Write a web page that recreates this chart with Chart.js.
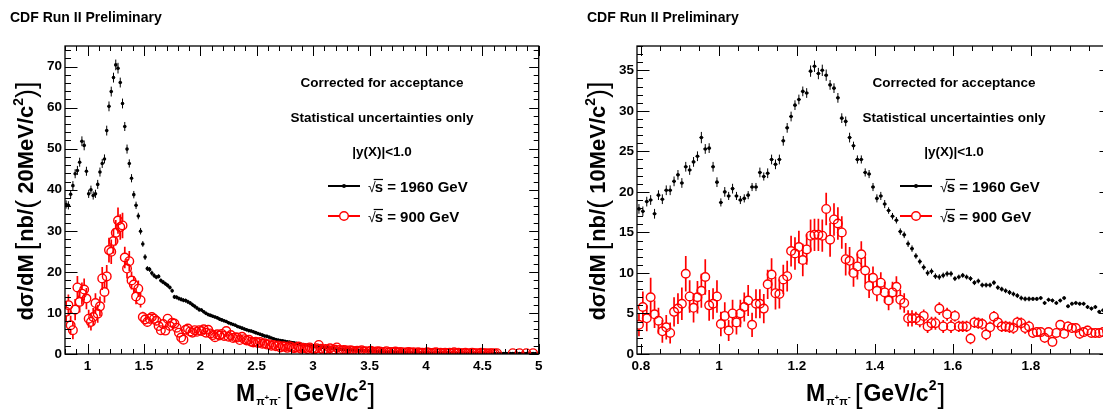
<!DOCTYPE html>
<html>
<head>
<meta charset="utf-8">
<script src="https://cdn.jsdelivr.net/npm/chart.js@4.4.1/dist/chart.umd.min.js"></script>
<style>
    html, body { margin: 0; padding: 0; background: #fff; overflow: hidden; }
    #wrap { position: relative; width: 1103px; height: 409px; overflow: hidden; }
    #chartLeft { position: absolute; left: 0; top: 0; }
    #chartRight { position: absolute; left: 552px; top: 0; }
</style>
</head>
<body>
<div id="wrap">
    <canvas id="chartLeft" width="552" height="409"></canvas>
    <canvas id="chartRight" width="570" height="409"></canvas>
</div>
<script>
// Binning of the two histograms (bin centres = start + width*(i+0.5))
const leftBinStart = 0.8, leftBinWidth = 0.02;
const rightBinStart = 0.79, rightBinWidth = 0.01;

// Tick labels
const leftXTicks = [1, 1.5, 2, 2.5, 3, 3.5, 4, 4.5, 5];
const leftYTicks = [0, 10, 20, 30, 40, 50, 60, 70];
const rightXTicks = [0.8, 1, 1.2, 1.4, 1.6, 1.8, 2];
const rightYTicks = [0, 5, 10, 15, 20, 25, 30, 35];

const infoLines = ['Corrected for acceptance', 'Statistical uncertainties only', '|y(X)|<1.0'];
const seriesLabels = ['1960 GeV', '900 GeV'];

// Left panel, 20 MeV bins, sqrt(s) = 1960 GeV
const leftBlack = [
    36.4, 36.2, 38.9, 41.0, 43.9, 44.7, 46.7, 51.8, 50.8, 44.5,
    39.0, 40.0, 38.6, 39.0, 41.3, 44.3, 46.4, 47.5, 54.4, 60.3,
    63.9, 67.3, 70.4, 69.6, 66.1, 61.0, 55.4, 49.9, 46.4, 42.8,
    38.8, 36.2, 33.6, 29.9, 26.8, 23.6, 20.8, 20.6, 19.7, 19.1,
    18.7, 18.9, 17.9, 17.5, 17.1, 16.7, 16.2, 15.4, 13.9, 13.8,
    13.5, 13.3, 13.1, 13.0, 12.7, 12.4, 12.0, 11.6, 11.2, 10.8,
    10.7, 10.3, 9.9, 9.6, 9.4, 9.2, 9.0, 8.8, 8.5, 8.3,
    8.1, 7.9, 7.6, 7.4, 7.2, 7.0, 6.7, 6.5, 6.3, 6.1,
    5.9, 5.7, 5.6, 5.4, 5.2, 5.0, 4.8, 4.6, 4.4, 4.3,
    4.1, 3.9, 3.7, 3.5, 3.4, 3.3, 3.2, 3.1, 3.0, 2.9,
    2.8, 2.7, 2.6, 2.5, 2.4, 2.3, 2.2, 2.2, 2.1, 2.0,
    1.9, 1.8, 1.8, 1.7, 1.6, 1.6, 1.5, 1.4, 1.4, 1.3,
    1.2, 1.2, 1.1, 1.1, 1.0, 1.0, 0.95, 0.9, 0.9, 0.9,
    0.9, 0.85, 0.8, 0.8, 0.75, 0.7, 0.7, 0.65, 0.6, 0.6,
    0.5, 0.5, 0.5, 0.45, 0.45, 0.4, 0.4, 0.4, 0.4, 0.35,
    0.35, 0.35, 0.3, 0.3, 0.3, 0.3, 0.3, 0.3, 0.28, 0.28,
    0.27, 0.26, 0.25, 0.25, 0.25, 0.24, 0.23, 0.22, 0.22, 0.22,
    0.2, 0.2, 0.2, 0.19, 0.19, 0.18, 0.18, 0.17, 0.17, 0.17,
    0.16, 0.16, 0.15, 0.15, 0.15, 0.14, 0.14, 0.14, 0.13, 0.13,
    0.13, 0.12, 0.12, 0.12, 0.11, 0.11, 0.11, 0.1, 0.1, 0.1,
    0.1, 0.09, 0.09, 0.09, 0.09, 0.08, 0.08, 0.08, 0.08, 0.07
];
const leftBlackErr = [
    1.0, 1.0, 1.0, 1.1, 1.1, 1.1, 1.1, 1.2, 1.2, 1.1,
    1.0, 1.0, 1.0, 1.0, 1.1, 1.1, 1.1, 1.1, 1.2, 1.2,
    1.2, 1.2, 1.3, 1.3, 1.2, 1.2, 1.1, 1.1, 1.0, 1.0,
    0.9, 0.9, 0.8, 0.8, 0.7, 0.7, 0.6, 0.6, 0.6, 0.6,
    0.5, 0.5, 0.5, 0.5, 0.5, 0.5, 0.5, 0.5, 0.5, 0.5,
    0.5, 0.5, 0.5, 0.5, 0.5, 0.5, 0.5, 0.5, 0.5, 0.5,
    0.4, 0.4, 0.4, 0.4, 0.4, 0.4, 0.4, 0.4, 0.4, 0.4,
    0.4, 0.4, 0.4, 0.4, 0.4, 0.4, 0.4, 0.4, 0.4, 0.4,
    0.4, 0.4, 0.4, 0.4, 0.4, 0.4, 0.4, 0.4, 0.4, 0.4,
    0.3, 0.3, 0.3, 0.3, 0.3, 0.3, 0.3, 0.3, 0.3, 0.3,
    0.3, 0.3, 0.3, 0.3, 0.3, 0.3, 0.3, 0.3, 0.3, 0.3,
    0.3, 0.3, 0.3, 0.3, 0.3, 0.3, 0.3, 0.3, 0.3, 0.3,
    0.2, 0.2, 0.2, 0.2, 0.2, 0.2, 0.2, 0.2, 0.2, 0.2,
    0.2, 0.2, 0.2, 0.2, 0.2, 0.2, 0.2, 0.2, 0.2, 0.2,
    0.2, 0.2, 0.2, 0.2, 0.2, 0.2, 0.2, 0.2, 0.2, 0.2,
    0.15, 0.15, 0.15, 0.15, 0.15, 0.15, 0.15, 0.15, 0.15, 0.15,
    0.15, 0.15, 0.15, 0.15, 0.15, 0.15, 0.15, 0.15, 0.15, 0.15,
    0.15, 0.15, 0.15, 0.15, 0.15, 0.15, 0.15, 0.15, 0.15, 0.15,
    0.1, 0.1, 0.1, 0.1, 0.1, 0.1, 0.1, 0.1, 0.1, 0.1,
    0.1, 0.1, 0.1, 0.1, 0.1, 0.1, 0.1, 0.1, 0.1, 0.1,
    0.1, 0.1, 0.1, 0.1, 0.1, 0.1, 0.1, 0.1, 0.1, 0.1
];

// Left panel, sqrt(s) = 900 GeV (null = empty bin)
const leftRed = [
    10.3, 11.9, 7.0, 5.8, 10.8, 16.2, 12.7, 14.7, 15.7, 13.5,
    8.6, 7.8, 9.0, 12.4, 9.8, 11.6, 18.4, 15.1, 18.9, 25.3,
    24.9, 27.5, 29.5, 32.5, 30.9, 31.3, 23.5, 20.8, 22.6, 17.9,
    16.9, 14.0, 15.9, 13.1, 9.0, 8.4, 7.8, 8.6, 9.0, 8.6,
    8.1, 6.8, 5.8, 7.3, 5.7, 8.6, 6.8, 7.6, 7.4, 6.4,
    5.2, 4.0, 3.5, 5.9, 6.2, 5.5, 5.2, 5.8, 5.4, 5.8,
    5.6, 6.0, 5.2, 5.9, 5.0, 4.6, 4.1, 4.8, 4.5, 4.9,
    4.4, 5.6, 4.2, 4.6, 3.9, 4.1, 4.0, 3.4, 4.2, 3.6,
    3.3, 3.5, 3.0, 2.8, 3.0, 2.7, 2.9, 2.5, 2.6, 2.3,
    2.4, 2.0, 2.2, 1.9, 2.1, 1.6, 1.9, 1.8, 1.5, 1.9,
    1.7, 1.4, 1.6, 1.8, 1.3, 1.5, 1.4, 1.2, 1.6, 1.3,
    1.1, 1.4, 2.2, 1.3, 1.0, 1.2, 1.0, 1.4, 0.9, 1.1,
    1.6, 1.0, 0.8, 1.0, 0.9, 0.7, 0.9, 0.8, 0.6, 0.8,
    0.7, 0.9, 0.6, 0.7, 0.5, 0.8, 0.6, 0.5, 0.7, 0.6,
    0.4, 0.5, 0.7, 0.4, 0.5, 0.4, 0.6, 0.3, 0.5, 0.4,
    0.3, 0.4, 0.5, 0.3, 0.4, 0.2, 0.4, 0.3, 0.3, 0.2,
    0.4, 0.3, 0.2, 0.3, 0.4, 0.2, 0.3, 0.2, 0.3, 0.2,
    0.3, 0.2, 0.4, 0.2, 0.3, 0.2, 0.2, 0.3, 0.1, 0.2,
    0.3, 0.2, 0.2, 0.1, 0.3, 0.2, 0.2, 0.1, 0.2, 0.2,
    0.1, 0.2, null, null, null, null, null, null, 0.2, null,
    null, 0.2, null, null, 0.2, null, null, 0.2, null, null
];
const leftRedErr = [
    2.6, 2.6, 2.3, 2.2, 2.6, 2.8, 2.6, 2.7, 2.7, 2.6,
    2.2, 2.1, 2.2, 2.4, 2.2, 2.4, 2.8, 2.6, 2.8, 3.0,
    3.0, 3.0, 3.1, 3.2, 3.1, 3.1, 2.6, 2.4, 2.5, 2.2,
    2.1, 1.9, 2.0, 1.8, 1.3, 1.2, 1.2, 1.2, 1.2, 1.2,
    1.1, 1.0, 1.0, 1.1, 1.0, 1.1, 1.0, 1.0, 1.0, 1.0,
    0.9, 0.9, 0.8, 0.9, 0.9, 0.9, 0.9, 0.9, 0.9, 0.9,
    0.8, 0.8, 0.8, 0.8, 0.8, 0.8, 0.8, 0.8, 0.8, 0.8,
    0.8, 0.8, 0.8, 0.8, 0.8, 0.8, 0.8, 0.8, 0.8, 0.8,
    0.7, 0.7, 0.7, 0.7, 0.7, 0.7, 0.7, 0.7, 0.7, 0.7,
    0.7, 0.7, 0.7, 0.7, 0.7, 0.7, 0.7, 0.7, 0.7, 0.7,
    0.6, 0.6, 0.6, 0.6, 0.6, 0.6, 0.6, 0.6, 0.6, 0.6,
    0.6, 0.6, 0.6, 0.6, 0.6, 0.6, 0.6, 0.6, 0.6, 0.6,
    0.5, 0.5, 0.5, 0.5, 0.5, 0.5, 0.5, 0.5, 0.5, 0.5,
    0.5, 0.5, 0.5, 0.5, 0.5, 0.5, 0.5, 0.5, 0.5, 0.5,
    0.4, 0.4, 0.4, 0.4, 0.4, 0.4, 0.4, 0.4, 0.4, 0.4,
    0.4, 0.4, 0.4, 0.4, 0.4, 0.4, 0.4, 0.4, 0.4, 0.4,
    0.3, 0.3, 0.3, 0.3, 0.3, 0.3, 0.3, 0.3, 0.3, 0.3,
    0.3, 0.3, 0.3, 0.3, 0.3, 0.3, 0.3, 0.3, 0.3, 0.3,
    0.3, 0.3, 0.3, 0.3, 0.3, 0.3, 0.3, 0.3, 0.3, 0.3,
    0.3, 0.3, 0.3, 0.3, 0.3, 0.3, 0.3, 0.3, 0.3, 0.3,
    0.3, 0.3, 0.3, 0.3, 0.3, 0.3, 0.3, 0.3, 0.3, 0.3
];

// Right panel, 10 MeV bins, sqrt(s) = 1960 GeV
const rightBlack = [
    17.9, 17.6, 18.8, 19.0, 17.3, 19.6, 19.1, 20.2, 20.2, 21.3,
    22.1, 21.1, 23.1, 22.7, 23.7, 24.4, 26.7, 25.3, 25.4, 23.1,
    21.2, 18.7, 20.0, 19.5, 20.4, 19.5, 19.0, 19.2, 19.6, 20.6,
    20.6, 22.4, 21.9, 22.3, 24.0, 23.4, 24.0, 26.3, 27.9, 29.3,
    30.7, 31.4, 32.4, 32.2, 34.9, 35.5, 34.6, 35.0, 34.4, 33.2,
    32.8, 31.6, 29.1, 28.7, 26.7, 25.7, 24.0, 24.0, 22.4, 22.2,
    20.6,
    19.2, 19.5, 18.5, 17.7, 17.0, 16.5, 15.1, 14.7, 13.6, 13.0,
    12.1, 11.4, 10.7, 10.0, 10.2, 9.6, 9.5, 9.7, 9.9, 9.9,
    9.3, 9.5, 9.7, 9.5, 9.3, 8.8, 9.0, 8.5, 8.5, 8.5,
    8.8, 8.2, 8.0, 7.8, 7.6, 7.4, 7.2, 6.9, 6.8, 6.8,
    6.8, 6.8, 6.9, 6.3, 6.7, 6.6, 6.3, 6.6, 6.9, 5.9,
    6.2, 6.3, 6.2, 6.2, 5.8, 5.6, 5.8, 5.2, 5.4, 5.3
];
const rightBlackErr = [
    0.6, 0.6, 0.6, 0.6, 0.6, 0.6, 0.6, 0.6, 0.6, 0.6,
    0.6, 0.6, 0.6, 0.6, 0.6, 0.6, 0.7, 0.6, 0.6, 0.6,
    0.6, 0.5, 0.6, 0.5, 0.6, 0.5, 0.5, 0.5, 0.5, 0.5,
    0.5, 0.6, 0.5, 0.6, 0.6, 0.6, 0.6, 0.6, 0.6, 0.6,
    0.6, 0.6, 0.6, 0.6, 0.7, 0.7, 0.7, 0.7, 0.7, 0.6,
    0.6, 0.6, 0.6, 0.6, 0.6, 0.5, 0.5, 0.5, 0.5, 0.5,
    0.5,
    0.5, 0.5, 0.5, 0.4, 0.4, 0.4, 0.4, 0.4, 0.4, 0.4,
    0.35, 0.35, 0.35, 0.35, 0.35, 0.35, 0.35, 0.35, 0.35, 0.35,
    0.3, 0.3, 0.3, 0.3, 0.3, 0.3, 0.3, 0.3, 0.3, 0.3,
    0.3, 0.3, 0.3, 0.3, 0.3, 0.3, 0.3, 0.3, 0.3, 0.3,
    0.25, 0.25, 0.25, 0.25, 0.25, 0.25, 0.25, 0.25, 0.25, 0.25,
    0.25, 0.25, 0.25, 0.25, 0.25, 0.25, 0.25, 0.25, 0.25, 0.25
];

// Right panel, sqrt(s) = 900 GeV
const rightRed = [
    3.6, 5.8, 4.4, 7.0, 4.9, 4.1, 2.8, 3.3, 2.6, 5.2,
    5.6, 6.2, 9.9, 7.1, 5.7, 7.0, 7.8, 9.5, 6.0, 6.2,
    7.1, 3.7, 4.7, 2.9, 5.0, 3.9, 5.0, 5.8, 6.6, 3.6,
    6.2, 6.2, 5.6, 8.6, 9.8, 7.5, 7.4, 9.2, 9.6, 12.7,
    12.4, 13.2, 11.6, 12.9, 14.6, 14.7, 14.7, 14.6, 17.9, 14.1,
    16.6, 16.1, 15.0, 11.7, 11.5, 10.0, 10.8, 12.3, 10.3, 8.4,
    9.4,
    7.8, 8.8, 7.6, 6.6, 7.6, 8.3, 6.7, 6.3, 4.4, 4.4,
    4.4, 4.1, 4.7, 3.4, 3.8, 3.8, 5.6, 3.4, 4.9, 3.4,
    4.7, 3.4, 3.4, 3.4, 1.9, 3.9, 3.8, 3.7, 2.4, 3.3,
    4.6, 3.9, 3.4, 3.4, 3.3, 3.2, 3.9, 3.8, 3.2, 3.4,
    2.6, 2.7, 2.7, 2.0, 2.7, 1.5, 2.6, 3.6, 2.5, 3.4,
    3.2, 3.2, 2.5, 2.7, 2.9, 2.6, 2.6, 2.6, 2.7, 2.8
];
const rightRedErr = [
    1.4, 1.9, 1.6, 2.4, 1.7, 1.6, 1.4, 1.5, 1.3, 1.8,
    1.9, 2.0, 2.2, 2.0, 1.8, 2.0, 2.1, 2.2, 1.9, 1.9,
    2.0, 1.5, 1.7, 1.3, 1.7, 1.5, 1.7, 1.8, 1.9, 1.5,
    1.8, 1.8, 1.8, 1.8, 2.0, 2.0, 1.8, 1.8, 1.9, 1.9,
    2.0, 2.0, 2.0, 1.9, 2.0, 2.0, 2.0, 2.0, 2.0, 2.1,
    2.0, 2.0, 2.0, 2.0, 1.7, 1.7, 1.6, 1.6, 1.7, 1.5,
    1.4,
    1.3, 1.3, 1.3, 1.2, 1.3, 1.3, 1.2, 1.2, 1.0, 1.0,
    0.8, 0.8, 0.8, 0.8, 0.8, 0.8, 0.8, 0.8, 0.8, 0.8,
    0.7, 0.7, 0.7, 0.7, 0.7, 0.7, 0.7, 0.7, 0.7, 0.7,
    0.7, 0.7, 0.7, 0.7, 0.7, 0.7, 0.7, 0.7, 0.7, 0.7,
    0.6, 0.6, 0.6, 0.6, 0.6, 0.6, 0.6, 0.6, 0.6, 0.6,
    0.6, 0.6, 0.6, 0.6, 0.6, 0.6, 0.6, 0.6, 0.6, 0.6
];

const FONT = '"Liberation Sans", Arial, sans-serif';

// turn a histogram into {x, y, e} points
function toPoints(start, width, vals, errs) {
    const pts = [];
    vals.forEach((v, i) => {
        if (v === null) return;
        pts.push({ x: start + width * (i + 0.5), y: v, e: errs[i] });
    });
    return pts;
}

// draw a list of text pieces starting at x0 on baseline y0
function drawPieces(ctx, pieces, x0, y0) {
    let x = x0;
    pieces.forEach(p => {
        ctx.font = p.f;
        ctx.fillText(p.t, x, y0 + (p.dy || 0));
        x += ctx.measureText(p.t).width + (p.sp || 0);
    });
}
function piecesWidth(ctx, pieces) {
    let w = 0;
    pieces.forEach(p => { ctx.font = p.f; w += ctx.measureText(p.t).width + (p.sp || 0); });
    return w;
}

function makePanel(canvasId, p) {
    const errorBars = {
        id: 'errorBars',
        beforeDatasetsDraw(chart) {
            const ctx = chart.ctx, a = chart.chartArea;
            const xs = chart.scales.x, ys = chart.scales.y;
            ctx.save();
            ctx.beginPath();
            ctx.rect(a.left, a.top, a.right - a.left, a.bottom - a.top);
            ctx.clip();
            chart.data.datasets.slice().reverse().forEach(ds => {
                ctx.strokeStyle = ds.borderColor;
                ctx.lineWidth = ds.errWidth;
                ctx.beginPath();
                ds.data.forEach(pt => {
                    const px = xs.getPixelForValue(pt.x), py = ys.getPixelForValue(pt.y);
                    const top = ys.getPixelForValue(pt.y + pt.e);
                    const bot = ys.getPixelForValue(pt.y - pt.e);
                    if (top < py - ds.errGap) { ctx.moveTo(px, py - ds.errGap); ctx.lineTo(px, top); }
                    if (bot > py + ds.errGap) { ctx.moveTo(px, py + ds.errGap); ctx.lineTo(px, bot); }
                    if (ds.xHalf) {
                        ctx.moveTo(xs.getPixelForValue(pt.x - ds.xHalf), py);
                        ctx.lineTo(xs.getPixelForValue(pt.x + ds.xHalf), py);
                    }
                });
                ctx.stroke();
            });
            ctx.restore();
        }
    };

    const decorations = {
        id: 'decorations',
        afterDraw(chart) {
            const ctx = chart.ctx, a = chart.chartArea;
            const xs = chart.scales.x, ys = chart.scales.y;
            ctx.save();
            ctx.strokeStyle = '#000';
            ctx.fillStyle = '#000';

            // inward ticks on all four sides
            ctx.lineWidth = 1;
            ctx.beginPath();
            const onGrid = (v, step) => Math.abs(v / step - Math.round(v / step)) < 1e-6;
            for (let k = Math.ceil(p.xMin / p.xMinor - 1e-6); k * p.xMinor <= p.xMax + 1e-9; k++) {
                const v = k * p.xMinor;
                const len = onGrid(v, p.xMajor) ? 10 : 5;
                const px = Math.round(xs.getPixelForValue(v)) + 0.5;
                ctx.moveTo(px, a.bottom); ctx.lineTo(px, a.bottom - len);
                ctx.moveTo(px, a.top); ctx.lineTo(px, a.top + len);
            }
            for (let k = 0; k * p.yMinor <= p.yMax + 1e-9; k++) {
                const v = k * p.yMinor;
                const major = onGrid(v, p.yMajor);
                const py = Math.round(ys.getPixelForValue(v)) + 0.5;
                ctx.moveTo(a.left, py); ctx.lineTo(a.left + (major ? 12.5 : 6), py);
                ctx.moveTo(a.right, py); ctx.lineTo(a.right - (major ? 9.5 : 5), py);
            }
            ctx.stroke();

            ctx.lineWidth = 1.3;
            ctx.strokeRect(a.left, a.top, a.right - a.left, a.bottom - a.top);

            // header
            ctx.textAlign = 'left';
            ctx.textBaseline = 'alphabetic';
            ctx.font = `bold 14px ${FONT}`;
            ctx.fillText('CDF Run II Preliminary', p.headerX, 22);

            // y axis title, rotated
            const yPieces = [
                { t: 'd\u03c3/dM', f: `bold 22px ${FONT}` },
                { t: ' ', f: `bold 14px ${FONT}` },
                { t: '[', f: `27px ${FONT}`, dy: 2, sp: 1 },
                { t: 'nb/', f: `bold 22px ${FONT}` },
                { t: '(', f: `27px ${FONT}`, dy: 2 },
                { t: ' ' + p.binLabel + '/c', f: `bold 22px ${FONT}` },
                { t: '2', f: `bold 14px ${FONT}`, dy: -10 },
                { t: ')', f: `27px ${FONT}`, dy: 2 },
                { t: ']', f: `27px ${FONT}`, dy: 2 }
            ];
            ctx.save();
            ctx.translate(p.yTitleX, 201);
            ctx.rotate(-Math.PI / 2);
            drawPieces(ctx, yPieces, -piecesWidth(ctx, yPieces) / 2, 0);
            ctx.restore();

            // x axis title
            const xPieces = [
                { t: 'M', f: `bold 23px ${FONT}`, sp: 1 },
                { t: '\u03c0', f: `bold 11px ${FONT}`, dy: 4 },
                { t: '+', f: `bold 8px ${FONT}`, dy: -1 },
                { t: '\u03c0', f: `bold 11px ${FONT}`, dy: 4 },
                { t: '-', f: `bold 9px ${FONT}`, dy: -1, sp: 4 },
                { t: '[', f: `28px ${FONT}`, dy: 2, sp: 1 },
                { t: 'GeV/c', f: `bold 23px ${FONT}` },
                { t: '2', f: `bold 14px ${FONT}`, dy: -11, sp: 1 },
                { t: ']', f: `28px ${FONT}`, dy: 2 }
            ];
            drawPieces(ctx, xPieces, p.xTitleX, 401);

            // info text
            ctx.textAlign = 'center';
            ctx.textBaseline = 'middle';
            ctx.font = `bold 13.5px ${FONT}`;
            const cx = a.left + 317;
            ctx.fillText(infoLines[0], cx, 83);
            ctx.fillText(infoLines[1], cx, 118);
            ctx.fillText(infoLines[2], cx, 152);

            // legend entries
            const entries = [
                { y: 186, color: '#000', label: seriesLabels[0], open: false },
                { y: 216, color: '#ff0000', label: seriesLabels[1], open: true }
            ];
            entries.forEach(en => {
                const x1 = a.left + 263, x2 = a.left + 295, mx = a.left + 279;
                ctx.strokeStyle = en.color;
                ctx.lineWidth = 2;
                ctx.beginPath(); ctx.moveTo(x1, en.y); ctx.lineTo(x2, en.y); ctx.stroke();
                if (en.open) {
                    ctx.fillStyle = '#fff';
                    ctx.lineWidth = 1.4;
                    ctx.beginPath(); ctx.arc(mx, en.y, 4.3, 0, Math.PI * 2); ctx.fill(); ctx.stroke();
                } else {
                    ctx.fillStyle = '#000';
                    ctx.beginPath(); ctx.arc(mx, en.y, 2, 0, Math.PI * 2); ctx.fill();
                }
                ctx.fillStyle = '#000';
                ctx.strokeStyle = '#000';
                ctx.textAlign = 'left';
                ctx.textBaseline = 'alphabetic';
                const base = en.y + 6;
                let tx = a.left + 303;
                ctx.font = `14px ${FONT}`;
                ctx.fillText('\u221a', tx, base);
                tx += ctx.measureText('\u221a').width - 1;
                ctx.font = `bold 15px ${FONT}`;
                const sw = ctx.measureText('s').width;
                ctx.fillText('s', tx, base);
                ctx.lineWidth = 1.2;
                ctx.beginPath(); ctx.moveTo(tx - 1, base - 12.5); ctx.lineTo(tx + sw, base - 12.5); ctx.stroke();
                ctx.fillText(' = ' + en.label, tx + sw, base);
            });
            ctx.restore();
        }
    };

    const tickFont = { family: FONT, size: 13.5, weight: 'bold' };

    return new Chart(document.getElementById(canvasId), {
        type: 'scatter',
        data: {
            datasets: [
                {
                    label: '900 GeV',
                    data: toPoints(p.binStart, p.binWidth, p.red, p.redErr),
                    pointStyle: 'circle',
                    pointRadius: 4.3,
                    pointBorderWidth: 1.4,
                    borderColor: '#ff0000',
                    backgroundColor: 'rgba(0,0,0,0)',
                    errWidth: 1.7,
                    errGap: 4.3,
                    order: 0
                },
                {
                    label: '1960 GeV',
                    data: toPoints(p.binStart, p.binWidth, p.black, p.blackErr),
                    pointStyle: 'circle',
                    pointRadius: 1.8,
                    pointBorderWidth: 0,
                    borderColor: '#000',
                    backgroundColor: '#000',
                    errWidth: 1,
                    errGap: 0,
                    xHalf: p.binWidth / 2,
                    order: 1
                }
            ]
        },
        options: {
            responsive: false,
            animation: false,
            events: [],
            layout: { padding: { top: 46, right: p.padRight, left: 0, bottom: 0 } },
            plugins: { legend: { display: false }, tooltip: { enabled: false } },
            scales: {
                x: {
                    type: 'linear',
                    min: p.xMin,
                    max: p.xMax,
                    grid: { display: false, drawTicks: false },
                    border: { display: false },
                    ticks: { font: tickFont, color: '#000', padding: 4, maxRotation: 0, autoSkip: false, callback: v => String(v) },
                    afterBuildTicks: s => { s.ticks = p.xTicks.map(v => ({ value: v })); },
                    afterFit: s => { s.height = 55; s.paddingLeft = 0; s.paddingRight = 0; }
                },
                y: {
                    type: 'linear',
                    min: 0,
                    max: p.yMax,
                    grid: { display: false, drawTicks: false },
                    border: { display: false },
                    ticks: { font: tickFont, color: '#000', padding: 3, autoSkip: false, callback: v => String(v) },
                    afterBuildTicks: s => { s.ticks = p.yTicks.map(v => ({ value: v })); },
                    afterFit: s => { s.width = p.yWidth; s.paddingTop = 0; s.paddingBottom = 0; }
                }
            }
        },
        plugins: [errorBars, decorations]
    });
}

makePanel('chartLeft', {
    binStart: leftBinStart, binWidth: leftBinWidth,
    black: leftBlack, blackErr: leftBlackErr, red: leftRed, redErr: leftRedErr,
    xMin: 0.8, xMax: 5, yMax: 75,
    xTicks: leftXTicks, yTicks: leftYTicks,
    xMajor: 0.5, xMinor: 0.1, yMajor: 10, yMinor: 2,
    yWidth: 65, padRight: 13.3,
    headerX: 10, yTitleX: 33, xTitleX: 236, binLabel: '20MeV'
});

makePanel('chartRight', {
    binStart: rightBinStart, binWidth: rightBinWidth,
    black: rightBlack, blackErr: rightBlackErr, red: rightRed, redErr: rightRedErr,
    xMin: 0.79, xMax: 2.0, yMax: 38,
    xTicks: rightXTicks, yTicks: rightYTicks,
    xMajor: 0.2, xMinor: 0.05, yMajor: 5, yMinor: 1,
    yWidth: 85, padRight: 13,
    headerX: 35, yTitleX: 53, xTitleX: 254, binLabel: '10MeV'
});
</script>
</body>
</html>
